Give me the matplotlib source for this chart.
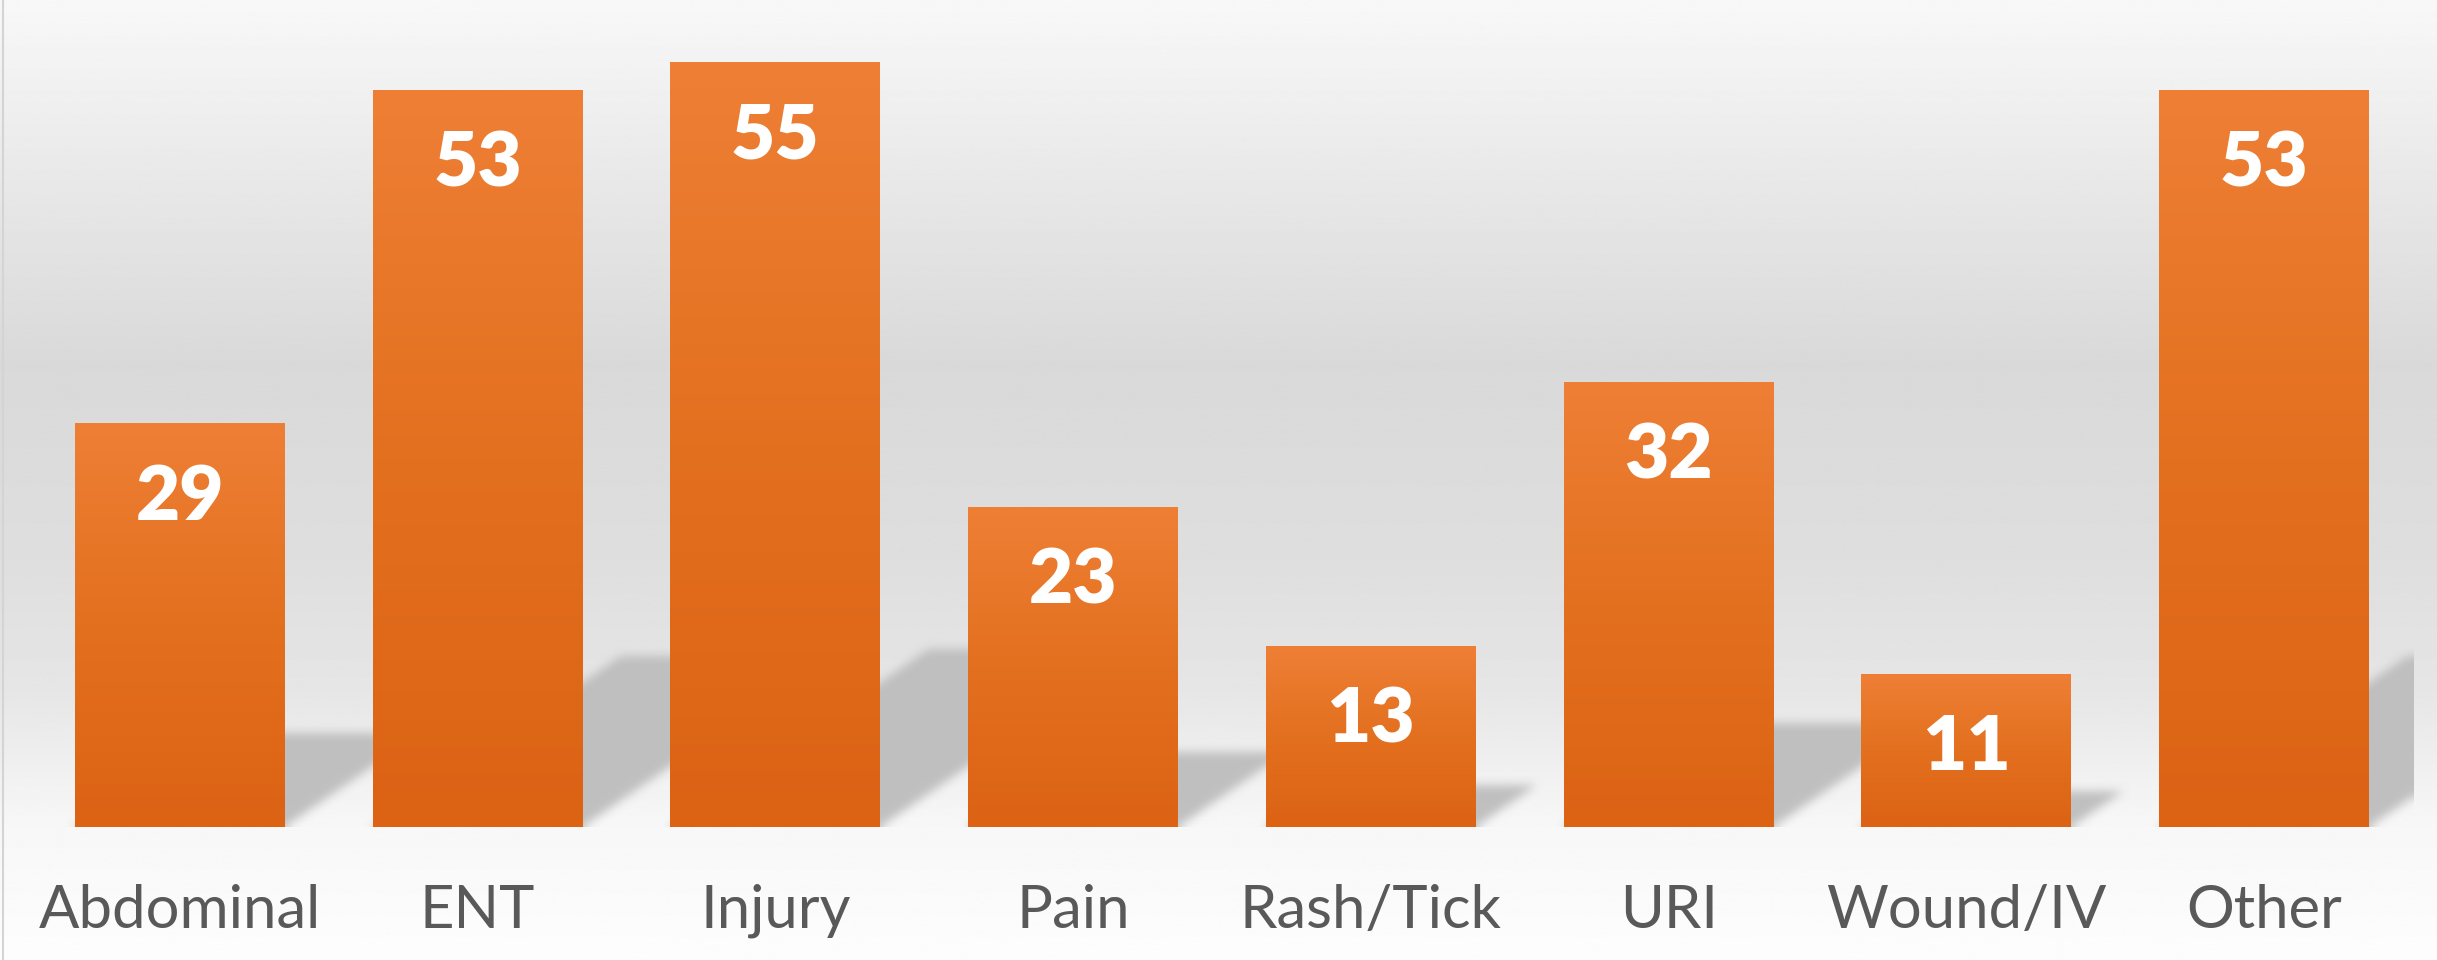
import numpy as np
import matplotlib
matplotlib.use("Agg")
import matplotlib.pyplot as plt
from matplotlib.colors import LinearSegmentedColormap
from matplotlib.lines import Line2D
import matplotlib.transforms as mtransforms

categories = ["Abdominal", "ENT", "Injury", "Pain", "Rash/Tick", "URI", "Wound/IV", "Other"]
values = [29, 53, 55, 23, 13, 32, 11, 53]

W, H, DPI = 2437, 960, 100
fig = plt.figure(figsize=(W / DPI, H / DPI), dpi=DPI)

# background gradient over the whole chart area
bg = fig.add_axes([0, 0, 1, 1], zorder=-5)
stops_y = [0.0, 0.19, 0.38, 0.58, 0.72, 0.86, 1.0]
stops_g = [248, 232, 217, 222, 230, 247, 253]
yy = np.linspace(0, 1, 400)
g = np.interp(yy, stops_y, stops_g) / 255.0
bg.imshow(np.repeat(g[:, None], 2, axis=1), cmap="gray", vmin=0, vmax=1,
          aspect="auto", extent=[0, 1, 1, 0], interpolation="bilinear")
bg.set_xlim(0, 1)
bg.set_ylim(1, 0)
bg.axis("off")
fig.add_artist(Line2D([2.5 / W, 2.5 / W], [0, 1], color="#d4d4d4", lw=1.5))

ax = fig.add_axes([31 / W, 133 / H, 2382 / W, 834 / H])
ax.set_facecolor("none")
x = np.arange(len(categories))
bw = 0.705
ymax = 60

# soft shadows: sheared parallelograms behind each bar
nx, ny = 2382, 834
gx = np.linspace(-0.5, len(categories) - 0.5, nx)
gy = np.linspace(0, ymax, ny)
GX, GY = np.meshgrid(gx, gy)
mask = np.zeros_like(GX)
shear = 0.0677
for xi, v in zip(x, values):
    sh = 0.232 * v
    shift = GY * shear
    inside = (GY <= sh) & (GX >= xi - bw / 2 + shift) & (GX <= xi + bw / 2 + shift)
    mask = np.maximum(mask, inside.astype(float))

def box_blur(a, r, axis):
    c = np.cumsum(np.pad(a, [(r + 1, r) if k == axis else (0, 0) for k in range(2)], mode="edge"), axis=axis)
    n = a.shape[axis]
    hi = np.take(c, np.arange(2 * r + 1, 2 * r + 1 + n), axis=axis)
    lo = np.take(c, np.arange(0, n), axis=axis)
    return (hi - lo) / (2 * r + 1)

for _ in range(2):
    mask = box_blur(mask, 5, 0)
    mask = box_blur(mask, 5, 1)
rgba = np.zeros((ny, nx, 4))
rgba[..., :3] = 0.745
rgba[..., 3] = mask * 0.95
ax.imshow(rgba, extent=[-0.5, len(categories) - 0.5, 0, ymax], origin="lower",
          aspect="auto", zorder=1, interpolation="bilinear")

# gradient bars
orange = LinearSegmentedColormap.from_list("org", ["#dc6214", "#e3701f", "#ee7f35"])
grad = np.linspace(0, 1, 256)[:, None]
for xi, v in zip(x, values):
    ax.imshow(grad, cmap=orange, extent=[xi - bw / 2, xi + bw / 2, 0, v], origin="lower",
              aspect="auto", zorder=2, interpolation="bilinear")
    ax.annotate(str(v), xy=(xi, v), xytext=(0, -96 * 0.72), textcoords="offset points",
                ha="center", va="baseline", color="white", fontsize=55,
                fontweight="heavy", family="Lato", zorder=3)

ax.set_xlim(-0.5, len(categories) - 0.5)
ax.set_ylim(0, ymax)
ax.set_xticks([])
ax.set_yticks([])
for s in ax.spines.values():
    s.set_visible(False)

trans = mtransforms.blended_transform_factory(ax.transData, fig.transFigure)
for xi, c in zip(x, categories):
    ax.text(xi, (H - 928) / H, c, transform=trans, ha="center", va="baseline",
            fontsize=43, color="#595959", family="Lato", clip_on=False)

fig.savefig("out.png", dpi=DPI)
plt.close(fig)
